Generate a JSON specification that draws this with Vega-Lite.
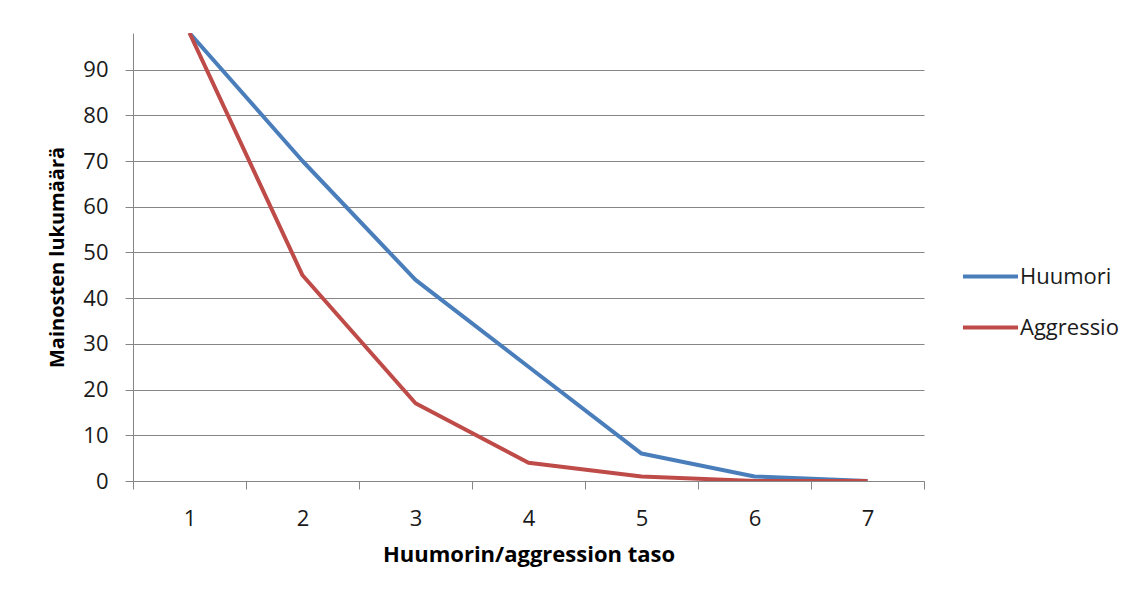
{
  "$schema": "https://vega.github.io/schema/vega-lite/v6.json",
  "width": 791,
  "height": 448,
  "autosize": "none",
  "padding": {"left": 133, "top": 33, "right": 223, "bottom": 116},
  "background": "white",
  "data": {
    "values": [
      {"taso": 1, "sarja": "Huumori", "maara": 98},
      {"taso": 2, "sarja": "Huumori", "maara": 70},
      {"taso": 3, "sarja": "Huumori", "maara": 44},
      {"taso": 4, "sarja": "Huumori", "maara": 25},
      {"taso": 5, "sarja": "Huumori", "maara": 6},
      {"taso": 6, "sarja": "Huumori", "maara": 1},
      {"taso": 7, "sarja": "Huumori", "maara": 0},
      {"taso": 1, "sarja": "Aggressio", "maara": 98},
      {"taso": 2, "sarja": "Aggressio", "maara": 45},
      {"taso": 3, "sarja": "Aggressio", "maara": 17},
      {"taso": 4, "sarja": "Aggressio", "maara": 4},
      {"taso": 5, "sarja": "Aggressio", "maara": 1},
      {"taso": 6, "sarja": "Aggressio", "maara": 0},
      {"taso": 7, "sarja": "Aggressio", "maara": 0}
    ]
  },
  "mark": {"type": "line", "strokeWidth": 4, "strokeJoin": "round", "clip": true},
  "encoding": {
    "x": {
      "field": "taso",
      "type": "ordinal",
      "title": "Huumorin/aggression taso",
      "bandPosition": 0.5,
      "scale": {"type": "band", "paddingInner": 0, "paddingOuter": 0},
      "axis": {
        "labelAngle": 0,
        "tickBand": "extent",
        "tickSize": 8,
        "labelPadding": 19,
        "titlePadding": 15,
        "grid": false
      }
    },
    "y": {
      "field": "maara",
      "type": "quantitative",
      "title": "Mainosten lukumäärä",
      "scale": {"domain": [0, 98], "nice": false, "zero": true},
      "axis": {
        "values": [0, 10, 20, 30, 40, 50, 60, 70, 80, 90],
        "tickSize": 8,
        "labelPadding": 17,
        "titlePadding": 15,
        "titleFontSize": 20,
        "grid": true
      }
    },
    "color": {
      "field": "sarja",
      "type": "nominal",
      "sort": ["Huumori", "Aggressio"],
      "scale": {"domain": ["Huumori", "Aggressio"], "range": ["#4A7EBB", "#BE4B48"]},
      "legend": {
        "title": null,
        "orient": "none",
        "legendX": 828,
        "legendY": 214,
        "symbolType": "stroke",
        "symbolSize": 3025,
        "symbolStrokeWidth": 4,
        "labelFontSize": 22,
        "labelFont": "Open Sans",
        "labelColor": "#1a1a1a",
        "labelOffset": 0,
        "rowPadding": 10
      }
    }
  },
  "config": {
    "view": {"stroke": null},
    "axis": {
      "domainColor": "#868686",
      "domainWidth": 1,
      "tickColor": "#868686",
      "gridColor": "#868686",
      "gridWidth": 1,
      "labelFont": "Open Sans",
      "labelFontSize": 22,
      "labelColor": "#1a1a1a",
      "titleFont": "Open Sans",
      "titleFontSize": 22,
      "titleFontWeight": "bold",
      "titleColor": "#000000"
    }
  }
}
